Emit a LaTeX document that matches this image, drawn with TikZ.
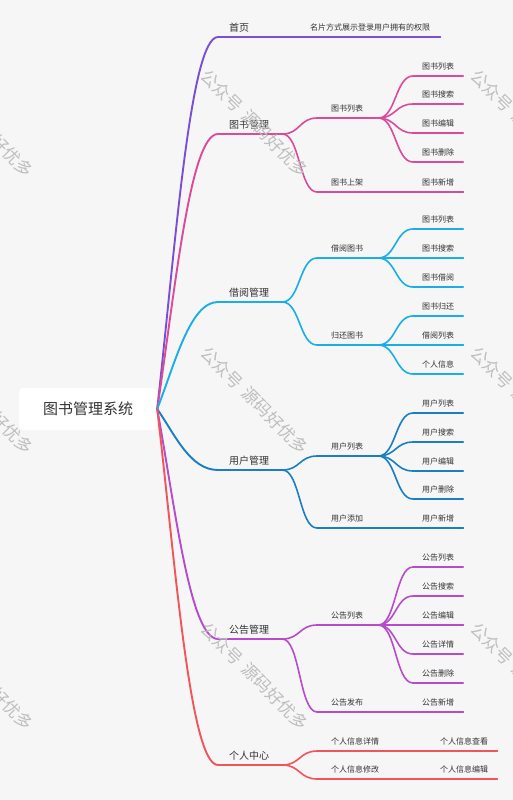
\documentclass[tikz,border=0pt]{standalone}
\usepackage{fontspec}
\setmainfont{Noto Sans CJK SC}
\usepackage{xcolor}
\usetikzlibrary{calc}

\definecolor{bgGray}{HTML}{F6F6F6}
\definecolor{txt}{HTML}{333333}
\definecolor{wmGray}{HTML}{BEBEBE}
\definecolor{cHome}{HTML}{7B4FD3}
\definecolor{cBook}{HTML}{DC4A9C}
\definecolor{cBorrow}{HTML}{1AAEE9}
\definecolor{cUser}{HTML}{1B7DC3}
\definecolor{cNotice}{HTML}{B64CC9}
\definecolor{cSelf}{HTML}{F2545B}

\tikzset{
  root/.style={fill=white, rounded corners=4pt, minimum width=138pt, minimum height=42pt,
    inner sep=0pt, text=txt, font=\fontsize{15}{18}\selectfont},
  topic/.style={anchor=south west, inner ysep=0pt, minimum height=18pt, align=left, text=txt},
  lvone/.style={topic, inner xsep=11pt, text width=42pt, font=\fontsize{10}{12}\selectfont},
  lvtwo/.style={topic, inner xsep=14pt, text width=33pt, font=\fontsize{8}{10}\selectfont},
  leaf/.style={topic, inner xsep=9pt, text width=32pt, font=\fontsize{8}{10}\selectfont},
  link/.style={line width=1.6pt, line cap=round},
  wmark/.style={text=wmGray, rotate=-45, font=\fontsize{17}{20}\selectfont}
}

\begin{document}
\begin{tikzpicture}[x=1pt,y=-1pt]
  \useasboundingbox (0,0) rectangle (513,800);
  \clip (0,0) rectangle (513,800);
  \fill[bgGray] (0,0) rectangle (513,800);

  % root
  \node[root] (root) at (88,409) {图书管理系统};

  % first level
  \node[lvone] (home) at (218,37) {首页};
  \node[lvone] (books) at (218,134) {图书管理};
  \node[lvone] (borrow) at (218,302) {借阅管理};
  \node[lvone] (users) at (218,470) {用户管理};
  \node[lvone] (notice) at (218,639) {公告管理};
  \node[lvone] (self) at (218,765) {个人中心};

  % second level
  \node[leaf, inner xsep=10pt, text width=120pt] (homeNote) at (300,37) {名片方式展示登录用户拥有的权限};
  \node[lvtwo] (bookList) at (317,118) {图书列表};
  \node[lvtwo] (bookShelf) at (317,192) {图书上架};
  \node[lvtwo] (borrowBook) at (317,258) {借阅图书};
  \node[lvtwo] (returnBook) at (317,345) {归还图书};
  \node[lvtwo] (userList) at (317,456) {用户列表};
  \node[lvtwo] (userAdd) at (317,528) {用户添加};
  \node[lvtwo] (noticeList) at (317,625) {公告列表};
  \node[lvtwo] (noticePub) at (317,712) {公告发布};
  \node[lvtwo, text width=50pt] (selfView) at (317,751) {个人信息详情};
  \node[lvtwo, text width=50pt] (selfEdit) at (317,779) {个人信息修改};

  % leaves
  \foreach \n/\y/\t in {bl1/76/图书列表, bl2/104/图书搜索, bl3/133/图书编辑, bl4/162/图书删除,
      bs1/192/图书新增, bb1/229/图书列表, bb2/258/图书搜索, bb3/287/图书借阅,
      rb1/316/图书归还, rb2/345/借阅列表, rb3/374/个人信息,
      ul1/413/用户列表, ul2/442/用户搜索, ul3/471/用户编辑, ul4/499/用户删除, ua1/528/用户新增,
      nl1/567/公告列表, nl2/596/公告搜索, nl3/625/公告编辑, nl4/654/公告详情, nl5/683/公告删除,
      np1/712/公告新增}
    \node[leaf] (\n) at (413,\y) {\t};
  \node[leaf, text width=48pt] (sv1) at (431,751) {个人信息查看};
  \node[leaf, text width=48pt] (se1) at (431,779) {个人信息编辑};

  % root links
  \foreach \n/\c/\d in {home/cHome/-160, books/cBook/-119, borrow/cBorrow/-46,
      users/cUser/26, notice/cNotice/98, self/cSelf/153}
    \draw[link, line width=1.9pt, \c] (root.east)
      .. controls ($(root.east)+(18,\d)$) and ($(\n.south west)+(-28,0)$) .. (\n.south west)
      -- (\n.south east);

  % branch links
  \foreach \a/\b/\c in {home/homeNote/cHome,
      books/bookList/cBook, books/bookShelf/cBook,
      bookList/bl1/cBook, bookList/bl2/cBook, bookList/bl3/cBook, bookList/bl4/cBook, bookShelf/bs1/cBook,
      borrow/borrowBook/cBorrow, borrow/returnBook/cBorrow,
      borrowBook/bb1/cBorrow, borrowBook/bb2/cBorrow, borrowBook/bb3/cBorrow,
      returnBook/rb1/cBorrow, returnBook/rb2/cBorrow, returnBook/rb3/cBorrow,
      users/userList/cUser, users/userAdd/cUser,
      userList/ul1/cUser, userList/ul2/cUser, userList/ul3/cUser, userList/ul4/cUser, userAdd/ua1/cUser,
      notice/noticeList/cNotice, notice/noticePub/cNotice,
      noticeList/nl1/cNotice, noticeList/nl2/cNotice, noticeList/nl3/cNotice,
      noticeList/nl4/cNotice, noticeList/nl5/cNotice, noticePub/np1/cNotice,
      self/selfView/cSelf, self/selfEdit/cSelf, selfView/sv1/cSelf, selfEdit/se1/cSelf}
    \draw[link, \c] (\a.south east)
      .. controls ($(\a.south east)+(17.5,0)$) and ($(\b.south west)+(-17.5,0)$) .. (\b.south west)
      -- (\b.south east);

  % watermark
  \foreach \x in {-20,255,525}
    \foreach \y in {123,400,676}
      \node[wmark] (wm-\x-\y) at (\x,\y) {公众号\hspace{0.4em}源码好优多};
\end{tikzpicture}
\end{document}
